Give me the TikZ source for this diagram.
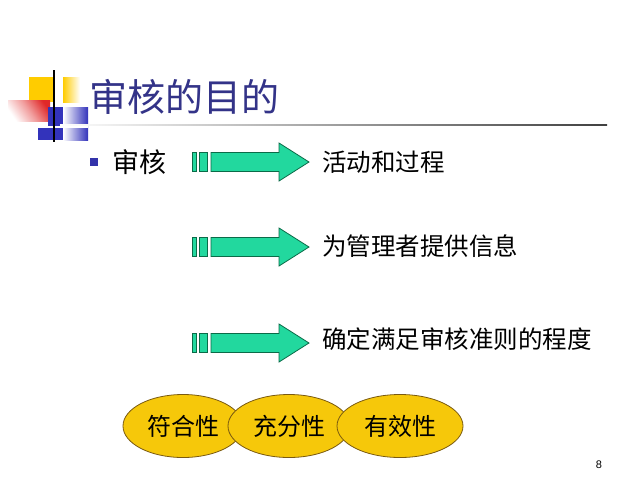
\documentclass[tikz,border=0pt]{standalone}
\usepackage{fontspec}
\setmainfont{Liberation Sans}
\newfontfamily\cjk{Noto Sans CJK SC}
\usetikzlibrary{shapes.geometric}
\definecolor{titleblue}{HTML}{333388}
\definecolor{bulletblue}{HTML}{3333AA}
\definecolor{arrowfill}{HTML}{22D89E}
\definecolor{arrowline}{HTML}{0B6B48}
\definecolor{ellfill}{HTML}{F6C80A}
\definecolor{elldraw}{HTML}{7A5A10}
\definecolor{logoyellow}{HTML}{FFCC00}
\definecolor{logoblue}{HTML}{3333BB}
\definecolor{logored}{HTML}{E02828}
\tikzset{
  bodytext/.style={font=\cjk\fontsize{24.5}{28}\selectfont, anchor=west, inner sep=0pt},
  oval/.style={ellipse, draw=elldraw, line width=0.8pt, fill=ellfill, minimum height=63pt, inner sep=0pt, font=\cjk\fontsize{24}{28}\selectfont},
  fatarrow/.style={draw=arrowline, fill=arrowfill, line width=0.8pt, line join=miter}
}
\begin{document}
\begin{tikzpicture}[x=1pt,y=-1pt]
\useasboundingbox (0,0) rectangle (640,480);
\fill[white] (0,0) rectangle (640,480);
% logo
\fill[logoyellow] (29,77) rectangle (54,102);
\shade[left color=logoyellow, right color=white] (63,77) rectangle (80,102);
\shade[top color=logored, bottom color=white, middle color=logored!45, shading angle=-55] (8,100) rectangle (50,121);
\fill[logoblue] (48,107) rectangle (63,140);
\fill[logoblue] (38,128) rectangle (63,140);
\shade[left color=white, right color=logoblue] (63,107) rectangle (88,140);
\draw[white, line width=2pt] (38,127) -- (88,127);
\draw[black, line width=1.2pt] (54,70) -- (54,142);
% title
\node[anchor=west, inner sep=0pt, text=titleblue, font=\cjk\fontsize{38}{42}\selectfont] (title) at (89,97) {审核的目的};
% rule
\shade[left color=white, right color=black!75] (60,124.4) rectangle (607,125.7);
% bullet
\fill[bulletblue] (90,158) rectangle (98,166);
\node[anchor=west, inner sep=0pt, font=\cjk\fontsize{27}{30}\selectfont] (audit) at (112,162) {审核};
% arrows
\foreach \n/\y in {a/162, b/247, c/343}{
  \coordinate (\n) at (192,\y);
  \draw[fatarrow] ([shift={(0,-9.5)}]\n) rectangle ([shift={(4,9.5)}]\n);
  \draw[fatarrow] ([shift={(7,-9.5)}]\n) rectangle ([shift={(15,9.5)}]\n);
  \draw[fatarrow] ([shift={(19,-9.5)}]\n) -- ([shift={(87,-9.5)}]\n) -- ([shift={(87,-19)}]\n) -- ([shift={(117,0)}]\n) -- ([shift={(87,19)}]\n) -- ([shift={(87,9.5)}]\n) -- ([shift={(19,9.5)}]\n) -- cycle;
}
\node[bodytext] (t1) at (322,162) {活动和过程};
\node[bodytext] (t2) at (322,246) {为管理者提供信息};
\node[bodytext] (t3) at (322,339) {确定满足审核准则的程度};
% ovals
\node[oval, minimum width=120pt] (o1) at (183,426) {符合性};
\node[oval, minimum width=122pt] (o2) at (289,426) {充分性};
\node[oval, minimum width=126pt] (o3) at (400,426) {有效性};
% page number
\node[inner sep=0pt, font=\fontsize{11}{13}\selectfont] (pg) at (599,465) {8};
\end{tikzpicture}
\end{document}
